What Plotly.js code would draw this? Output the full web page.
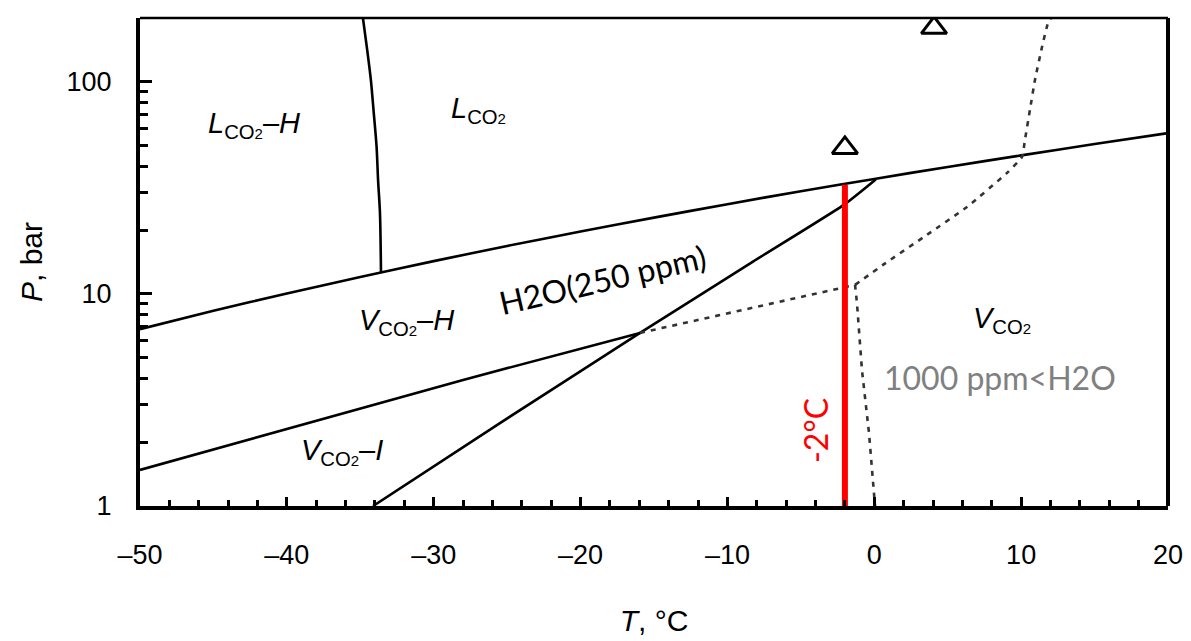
<!DOCTYPE html>
<html>
<head>
<meta charset="utf-8">
<script src="https://cdn.plot.ly/plotly-3.0.1.min.js"></script>
<style>html,body{margin:0;padding:0;background:#fff;}#chart{width:1191px;height:641px;}</style>
</head>
<body>
<div id="chart"></div>
<script>
// CO2 vapour/liquid boundary (solid, upper)
const satT = [-50, -45, -40, -35, -30, -25, -20, -15, -10, -5, 0, 5, 10, 15, 20];
const satP = [6.82, 8.32, 10.05, 12.02, 14.28, 16.83, 19.7, 22.9, 26.5, 30.5, 34.85, 39.7, 45.0, 50.9, 57.3];
// L_CO2-H / L_CO2 boundary (near-vertical)
const lhT = [-34.82, -34.53, -34.28, -34.10, -33.89, -33.79, -33.66, -33.59];
const lhP = [200, 141.5, 102.2, 73.8, 49.4, 34.5, 24.1, 12.6];
// V_CO2-H / V_CO2-I boundary
const hiT = [-50, -28.0, -15.95];
const hiP = [1.48, 3.93, 6.55];
// H2O (250 ppm) line
const w250T = [-34.13, -25.49, -15.95, -8.26, -2.0, 0.1];
const w250P = [1.0, 2.46, 6.55, 14.2, 26.5, 34.6];
// 1000 ppm dotted boundaries
const w1000aT = [-15.95, -1.31, -1.18, -0.84, -0.36, 0.05];
const w1000aP = [6.55, 11.03, 9.06, 4.38, 2.21, 1.0];
const w1000bT = [-1.31, 0.59, 3.59, 6.31, 9.04, 10.06, 10.26, 10.6, 10.94, 11.42, 11.83, 12.03];
const w1000bP = [11.03, 13.7, 19.0, 25.7, 37.2, 44.3, 53.3, 73.8, 102, 146, 189.8, 200];
// -2 °C red line
const redT = [-2, -2];
const redP = [1, 32.7];
// open triangles
const triT = [4.07, -2.0];
const triP = [179.8, 48.8];
// axis ticks
const xTickVals = [-50, -40, -30, -20, -10, 0, 10, 20];
const xTickText = ['–50', '–40', '–30', '–20', '–10', '0', '10', '20'];
const xMinorVals = [-48,-46,-44,-42,-38,-36,-34,-32,-28,-26,-24,-22,-18,-16,-14,-12,-8,-6,-4,-2,2,4,6,8,12,14,16,18];
const yTickVals = [1, 10, 100];
const yTickText = ['1', '10', '100'];
const yMinorVals = [2,3,4,5,6,7,8,9,20,30,40,50,60,70,80,90,200];

const blk = '#000000';
const solid = {color: blk, width: 2.6};
const dotted = {color: '#333333', width: 2.6, dash: '5px,6px'};

const traces = [
  {x: satT, y: satP, mode: 'lines', line: Object.assign({shape: 'spline', smoothing: 0.6}, solid), hoverinfo: 'skip'},
  {x: lhT, y: lhP, mode: 'lines', line: Object.assign({shape: 'spline', smoothing: 0.8}, solid), hoverinfo: 'skip'},
  {x: hiT, y: hiP, mode: 'lines', line: solid, hoverinfo: 'skip'},
  {x: w250T, y: w250P, mode: 'lines', line: Object.assign({shape: 'spline', smoothing: 0.5}, solid), hoverinfo: 'skip'},
  {x: w1000aT, y: w1000aP, mode: 'lines', line: dotted, hoverinfo: 'skip'},
  {x: w1000bT, y: w1000bP, mode: 'lines', line: Object.assign({shape: 'spline', smoothing: 0.4}, dotted), hoverinfo: 'skip'},
  {x: redT, y: redP, mode: 'lines', line: {color: '#ff0000', width: 6}, hoverinfo: 'skip'},
  {x: triT, y: triP, mode: 'markers', marker: {symbol: 'triangle-up-open', size: 22, color: blk, line: {width: 3, color: blk}}, hoverinfo: 'skip'}
];

const fArial = 'Liberation Sans, Arial, sans-serif';
const fCal = 'Lato, Open Sans, sans-serif';

function ann(text, x, p, opts) {
  return Object.assign({text: text, x: x, y: Math.log10(p), xref: 'x', yref: 'y', showarrow: false,
    font: {family: fArial, size: 29, color: blk}, xanchor: 'center', yanchor: 'middle'}, opts || {});
}

const sub = '<sub>CO<span style="font-size:15px">2</span></sub>';

const layout = {
  width: 1191, height: 641,
  margin: {l: 140, r: 23, t: 18, b: 135},
  paper_bgcolor: '#ffffff', plot_bgcolor: '#ffffff',
  showlegend: false,
  xaxis: {
    range: [-50, 20], showgrid: false, zeroline: false,
    showline: true, linecolor: blk, linewidth: 4, mirror: false,
    ticks: 'inside', ticklen: 9, tickwidth: 3, tickcolor: blk,
    tickvals: xTickVals, ticktext: xTickText,
    minor: {ticks: 'inside', ticklen: 6, tickwidth: 3, tickcolor: blk, tickvals: xMinorVals},
    tickfont: {family: fArial, size: 27, color: blk},
    ticklabelstandoff: 22,
    title: {text: '<i>T</i>, °C', font: {family: fArial, size: 30, color: blk}, standoff: 42}
  },
  yaxis: {
    type: 'log', range: [0, Math.log10(200)], showgrid: false, zeroline: false,
    showline: true, linecolor: blk, linewidth: 4, mirror: false,
    ticks: 'inside', ticklen: 12, tickwidth: 3, tickcolor: blk,
    tickvals: yTickVals, ticktext: yTickText,
    minor: {ticks: 'inside', ticklen: 8, tickwidth: 3, tickcolor: blk, tickvals: yMinorVals},
    tickfont: {family: fArial, size: 27, color: blk},
    ticklabelstandoff: 19,
    title: {text: '<i>P</i>, bar', font: {family: fArial, size: 30, color: blk}, standoff: 16}
  },
  shapes: [
    {type: 'line', xref: 'x domain', yref: 'y domain', x0: 0, x1: 1, y0: 1, y1: 1, line: {color: blk, width: 2.6}},
    {type: 'line', xref: 'x domain', yref: 'y domain', x0: 1, x1: 1, y0: 0, y1: 1, line: {color: blk, width: 4}}
  ],
  annotations: [
    ann('<i>L</i>' + sub + '–<i>H</i>', -42.24, 62.7),
    ann('<i>L</i>' + sub, -26.98, 73.8),
    ann('<i>V</i>' + sub + '–<i>H</i>', -31.82, 7.38),
    ann('<i>V</i>' + sub + '–<i>I</i>', -36.25, 1.8),
    ann('<i>V</i>' + sub, 8.7, 7.53),
    ann('H2O(250 ppm)', -18.54, 11.64, {textangle: -13, font: {family: fCal, size: 32, color: blk}}),
    ann('1000 ppm&lt;H2O', 8.56, 4.02, {font: {family: fCal, size: 32, color: '#808080'}}),
    ann('-2°C', -4.04, 2.28, {textangle: -90, font: {family: fCal, size: 32, color: '#ff0000'}})
  ]
};

Plotly.newPlot('chart', traces, layout, {staticPlot: true, displayModeBar: false});
</script>
</body>
</html>
